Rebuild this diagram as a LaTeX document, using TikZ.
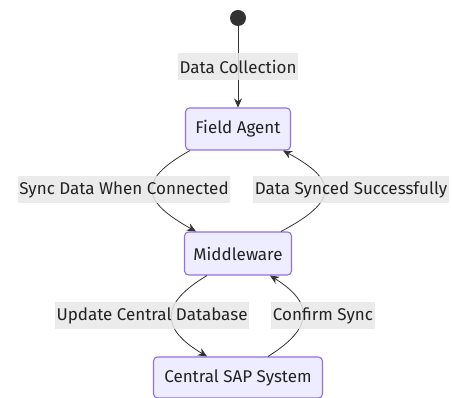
\documentclass[tikz,border=0pt]{standalone}
\usepackage{fontspec}
\setmainfont{Fira Sans}
\usetikzlibrary{arrows.meta}

\begin{document}
\begin{tikzpicture}[x=1pt,y=1pt,
    estado/.style={draw=borde,fill=relleno,rounded corners=4pt,line width=1.1pt,
      minimum height=42pt,text=texto,font=\fontsize{17}{20}\selectfont},
    etiqueta/.style={fill=gris,fill opacity=0.85,text opacity=1,text=texto,
      inner xsep=1.5pt,minimum height=27pt,font=\fontsize{17}{20}\selectfont},
    flecha/.style={draw=linea,line width=0.8pt,-{Stealth[length=9pt,width=8pt]}}]
    %colores
    \colorlet{relleno}{blue!7!white}
    \definecolor{borde}{HTML}{9370DB}
    \definecolor{linea}{HTML}{333333}
    \definecolor{texto}{HTML}{222222}
    \definecolor{gris}{HTML}{E8E8E8}

    % marco
    \useasboundingbox (0,0) rectangle (452,398);

    % estados
    \node[circle,fill=linea,minimum size=16pt,inner sep=0pt] (inicio) at (238,380) {};
    \node[estado,minimum width=105pt] (agente) at (238,269) {Field Agent};
    \node[estado,minimum width=107pt,minimum height=43pt] (middle) at (238,144.5) {Middleware};
    \node[estado,minimum width=169pt,minimum height=41pt] (sap) at (238,20.5) {Central SAP System};

    % transiciones
    \draw[flecha] (inicio) -- (agente);
    \draw[flecha] ([xshift=-48pt]agente.south) .. controls +(-54,-30) and +(-54,30) .. ([xshift=-42pt]middle.north);
    \draw[flecha] ([xshift=43pt]middle.north) .. controls +(57,30) and +(56,-30) .. ([xshift=45pt]agente.south);
    \draw[flecha] ([xshift=-31pt]middle.south) .. controls +(-47,-28) and +(-47,28) .. ([xshift=-31pt]sap.north);
    \draw[flecha] ([xshift=30pt]sap.north) .. controls +(45,28) and +(45,-28) .. ([xshift=32pt]middle.south);

    % etiquetas
    \foreach \nombre/\x/\y/\txt in {recoleccion/238/331/Data Collection,
        sincro/124/208/Sync Data When Connected, exito/351/208/Data Synced Successfully,
        actualiza/152/82/Update Central Database, confirma/323/82/Confirm Sync}
      \node[etiqueta] (\nombre) at (\x,\y) {\txt};
\end{tikzpicture}
\end{document}
